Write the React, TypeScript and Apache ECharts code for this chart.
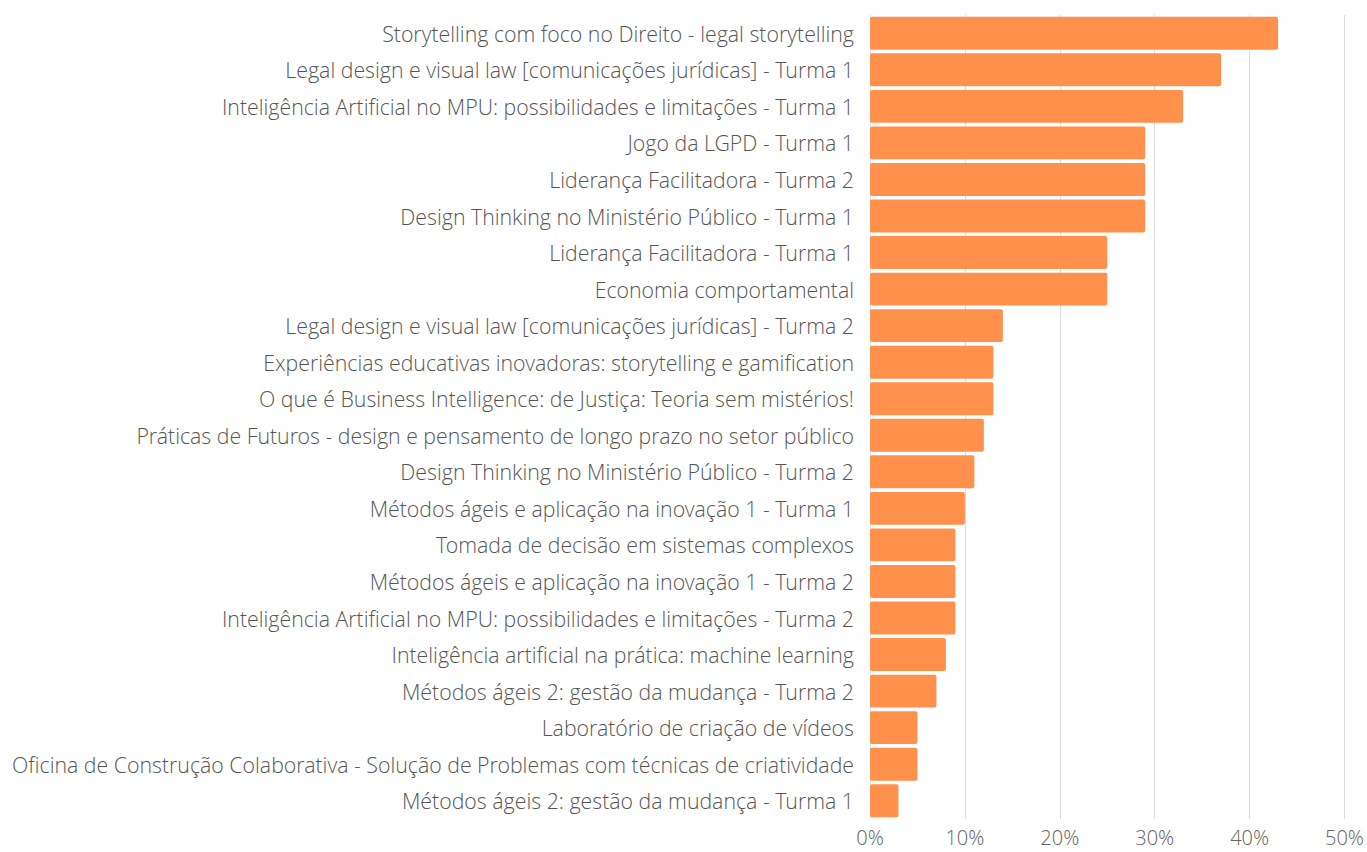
import React, { useEffect, useRef } from "react";
import * as echarts from "echarts";

const categories = [
  "Storytelling com foco no Direito - legal storytelling",
  "Legal design e visual law [comunicações jurídicas] - Turma 1",
  "Inteligência Artificial no MPU: possibilidades e limitações - Turma 1",
  "Jogo da LGPD - Turma 1",
  "Liderança Facilitadora - Turma 2",
  "Design Thinking no Ministério Público - Turma 1",
  "Liderança Facilitadora - Turma 1",
  "Economia comportamental",
  "Legal design e visual law [comunicações jurídicas] - Turma 2",
  "Experiências educativas inovadoras: storytelling e gamification",
  "O que é Business Intelligence: de Justiça: Teoria sem mistérios!",
  "Práticas de Futuros - design e pensamento de longo prazo no setor público",
  "Design Thinking no Ministério Público - Turma 2",
  "Métodos ágeis e aplicação na inovação 1 - Turma 1",
  "Tomada de decisão em sistemas complexos",
  "Métodos ágeis e aplicação na inovação 1 - Turma 2",
  "Inteligência Artificial no MPU: possibilidades e limitações - Turma 2",
  "Inteligência artificial na prática: machine learning",
  "Métodos ágeis 2: gestão da mudança - Turma 2",
  "Laboratório de criação de vídeos",
  "Oficina de Construção Colaborativa - Solução de Problemas com técnicas de criatividade",
  "Métodos ágeis 2: gestão da mudança - Turma 1",
];

const values = [43, 37, 33, 29, 29, 29, 25, 25, 14, 13, 13, 12, 11, 10, 9, 9, 9, 8, 7, 5, 5, 3];

const xTicks = { min: 0, max: 50, interval: 10 };

const FONT = "'Open Sans Light', 'Open Sans', sans-serif";

export default function App() {
  const ref = useRef<HTMLDivElement>(null);
  useEffect(() => {
    if (!ref.current) return;
    const chart = echarts.init(ref.current, undefined, { renderer: "svg" });
    chart.setOption({
      animation: false,
      grid: { left: 870, right: 22, top: 15, bottom: 33, containLabel: false },
      xAxis: {
        type: "value",
        min: xTicks.min,
        max: xTicks.max,
        interval: xTicks.interval,
        axisLine: { show: false },
        axisTick: { show: false },
        splitLine: { show: true, lineStyle: { color: "#dddddd", width: 1 } },
        axisLabel: {
          formatter: "{value}%",
          color: "#666666",
          fontFamily: FONT,
          fontWeight: 300,
          fontSize: 20,
          margin: 8,
        },
      },
      yAxis: {
        type: "category",
        inverse: true,
        data: categories,
        axisLine: { show: false },
        axisTick: { show: false },
        splitLine: { show: false },
        axisLabel: {
          color: "#555555",
          fontFamily: FONT,
          fontWeight: 300,
          fontSize: 21.3,
          margin: 16,
        },
      },
      series: [
        {
          type: "bar",
          data: values,
          barCategoryGap: "10%",
          itemStyle: { color: "#FF914D", borderRadius: 2 },
        },
      ],
    });
    return () => chart.dispose();
  }, []);
  return (
    <div
      ref={ref}
      style={{ position: "fixed", left: 0, top: 0, width: 1367, height: 852, background: "#fff" }}
    />
  );
}
